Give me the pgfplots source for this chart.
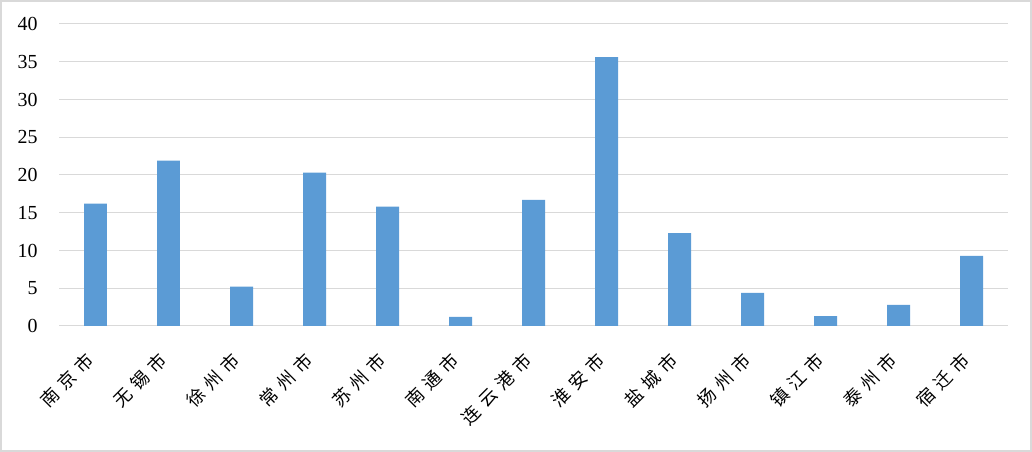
\documentclass[border=0pt]{standalone}
\usepackage{fontspec}
\setmainfont{Liberation Serif}
\newfontfamily\cjk[LetterSpace=35]{Noto Sans CJK SC}
\usepackage{pgfplots}
\pgfplotsset{compat=1.18}
\definecolor{barblue}{HTML}{5B9BD5}
\definecolor{gridgray}{HTML}{D9D9D9}
\begin{document}
\begin{tikzpicture}
\useasboundingbox (0,0) rectangle (1032bp,452bp);
\draw[gridgray, line width=2bp] (1bp,1bp) rectangle (1031bp,451bp);
\begin{axis}[
  at={(59bp,126bp)}, anchor=south west,
  scale only axis, width=949bp, height=302bp,
  xmin=-0.5, xmax=12.5, ymin=0, ymax=40,
  ytick={0,5,...,40},
  xtick={0,...,12},
  xticklabels={南京市,无锡市,徐州市,常州市,苏州市,南通市,连云港市,淮安市,盐城市,扬州市,镇江市,泰州市,宿迁市},
  ymajorgrids, grid style={gridgray, line width=1bp},
  axis line style={draw=none},
  major tick length=0pt,
  /pgf/number format/assume math mode=true,
  yticklabel style={font=\fontsize{20}{20}\selectfont, anchor=east, xshift=-18bp},
  xticklabel style={font=\cjk\fontsize{18}{18}\selectfont, xshift=-5bp, yshift=-31bp, rotate=45, anchor=east, inner sep=0pt},
  clip=false,
]
\addplot[ybar, bar width=0.315, fill=barblue, draw=none] coordinates {
(0,16.2) (1,21.9) (2,5.2) (3,20.3) (4,15.8) (5,1.2) (6,16.7) (7,35.6) (8,12.3) (9,4.4) (10,1.3) (11,2.8) (12,9.3)
};
\end{axis}
\end{tikzpicture}
\end{document}
